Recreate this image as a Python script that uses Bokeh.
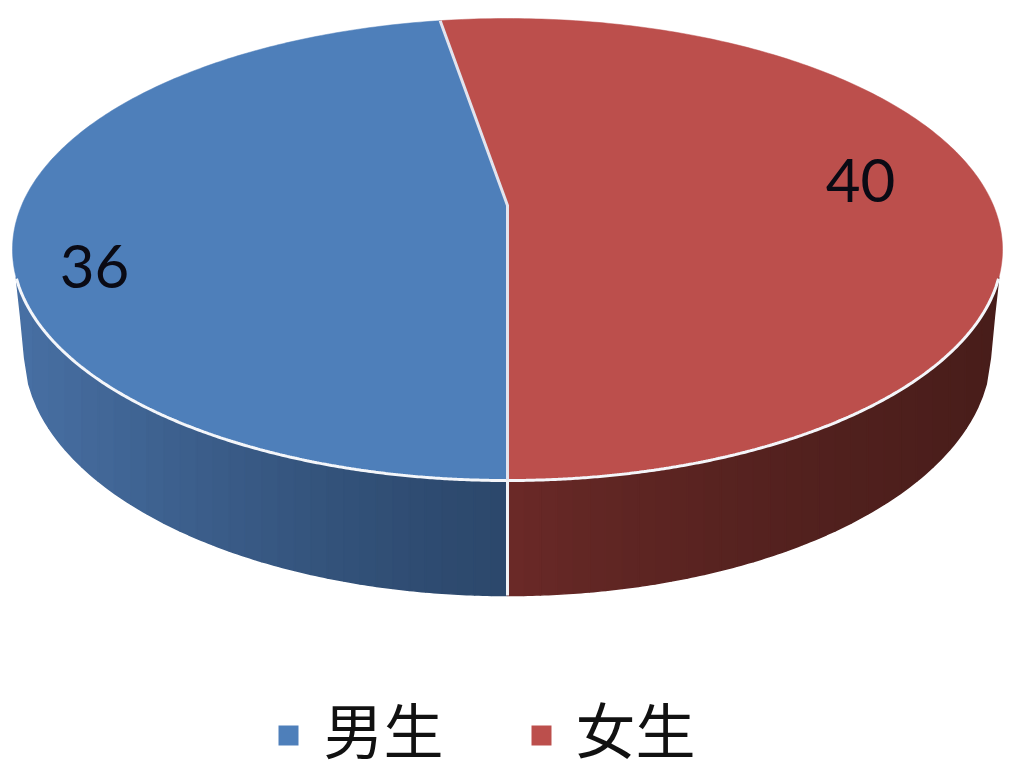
import numpy as np
from bokeh.plotting import figure
from bokeh.models import ColumnDataSource, Range1d
from bokeh.core.properties import value
from bokeh.embed import file_html
from bokeh.resources import INLINE

categories = ["男生", "女生"]
counts = [36, 40]
top_colors = ["#4e7fba", "#bc4f4c"]
side_near = [(44, 72, 108), (108, 42, 40)]   # next to the front seam
side_far = [(72, 112, 164), (72, 29, 26)]    # at the outer edge
label_xy = [(94, 266), (860, 180)]
legend_swatch_x = [288, 541]
legend_text_x = [323, 575]
LEGEND_SWATCH_Y, LEGEND_TEXT_Y = 735, 727

# projection of the pie's top face and of its base, in reference pixels
CX = 507
TOP_APEX_Y, TOP_NEAR_Y, TOP_FAR_Y, TOP_HALF_W = 205, 480, 18, 495
BASE_CY, BASE_RY, BASE_RX = 351, 244, 483
SIDE_HALF_W = 491  # half width where the side wall starts under the top rim
PAGE_W, PAGE_H = 1011, 777


def project(theta):
    """Point of the unit disc (theta clockwise from the front) on the tilted, perspective top face."""
    u, v = -np.sin(theta), np.cos(theta)
    down, up = TOP_NEAR_Y - TOP_APEX_Y, TOP_APEX_Y - TOP_FAR_Y
    a = (down - up) / (down + up)
    ky = down * (1 - a)
    kx = TOP_HALF_W * np.sqrt(1 - a * a)
    w = 1 - a * v
    return CX + kx * u / w, TOP_APEX_Y + ky * v / w


p = figure(width=PAGE_W, height=PAGE_H, output_backend="svg", toolbar_location=None,
           x_range=Range1d(0, PAGE_W), y_range=Range1d(PAGE_H, 0),
           x_axis_type=None, y_axis_type=None, min_border=0,
           outline_line_color=None, background_fill_color="white")
p.grid.visible = False

split = 2 * np.pi * counts[0] / sum(counts)
apex = (CX, TOP_APEX_Y)
top_cy = (TOP_NEAR_Y + TOP_FAR_Y) / 2
top_ry = (TOP_NEAR_Y - TOP_FAR_Y) / 2


def top_rim_y(d):
    return top_cy + top_ry * np.sqrt(np.clip(1 - (d / TOP_HALF_W) ** 2, 0, 1))


def base_rim_y(d):
    inner = BASE_CY + BASE_RY * np.sqrt(np.clip(1 - (d / BASE_RX) ** 2, 0, 1))
    outer = BASE_CY + (top_rim_y(SIDE_HALF_W) - BASE_CY) * (d - BASE_RX) / (SIDE_HALF_W - BASE_RX)
    return np.where(d <= BASE_RX, inner, outer)


# side wall: vertical bands whose colour shifts from the front seam outward
n_bands = 30
for side, sign in enumerate([-1, 1]):
    edges = np.linspace(0, SIDE_HALF_W, n_bands + 1)
    xs, ys, cols = [], [], []
    # painted from the outside in, each band reaching under its neighbour so no seams show
    for i in reversed(range(n_bands)):
        d = np.linspace(edges[i], edges[i + 1], 5)
        xs.append(np.r_[CX + sign * d, CX + sign * d[::-1]])
        ys.append(np.r_[top_rim_y(d) - 2, base_rim_y(d[::-1])])
        f = ((edges[i] + edges[i + 1]) / 2 / SIDE_HALF_W)
        f = f ** 1.3 if side == 0 else f ** 0.7
        c = [int(round(n + (q - n) * f)) for n, q in zip(side_near[side], side_far[side])]
        cols.append("#%02x%02x%02x" % tuple(c))
    p.patches(xs="xs", ys="ys", fill_color="cols", line_color="cols", line_width=1.6,
              source=ColumnDataSource(dict(xs=xs, ys=ys, cols=cols)))

# top face: one wedge per category
theta_ranges = [(0.0, split), (split, 2 * np.pi)]
for (a0, a1), col in zip(theta_ranges, top_colors):
    th = np.linspace(a0, a1, 240)
    x, y = project(th)
    p.patch(np.r_[x, apex[0]], np.r_[y, apex[1]], fill_color=col, line_color=col, line_width=0.5)

# white separators
d = np.linspace(-SIDE_HALF_W, SIDE_HALF_W, 400)
p.line(CX + d, top_rim_y(np.abs(d)), line_color="#f4f6fa", line_width=3)
sx, sy = project(np.array([split, 0.0]))
p.line([sx[0], apex[0], sx[1]], [sy[0], apex[1], sy[1]], line_color="#e2e4ee", line_width=3)
p.line([CX, CX], [TOP_NEAR_Y, BASE_CY + BASE_RY], line_color="#f0f2f6", line_width=3)

# data labels
p.text(x=[q[0] for q in label_xy], y=[q[1] for q in label_xy], text=[str(c) for c in counts],
       text_font=value("Lato"), text_font_size="60px", text_color="#0a0a14",
       text_align="center", text_baseline="middle")

# legend row
p.scatter(x=legend_swatch_x, y=[LEGEND_SWATCH_Y] * 2, marker="square", size=20,
          fill_color=top_colors, line_color=None)
p.text(x=legend_text_x, y=[LEGEND_TEXT_Y] * 2, text=categories,
       text_font=value("Noto Sans CJK SC"), text_font_size="60px", text_color="#111111",
       text_align="left", text_baseline="middle")

open("out.html", "w").write(file_html(p, INLINE))
